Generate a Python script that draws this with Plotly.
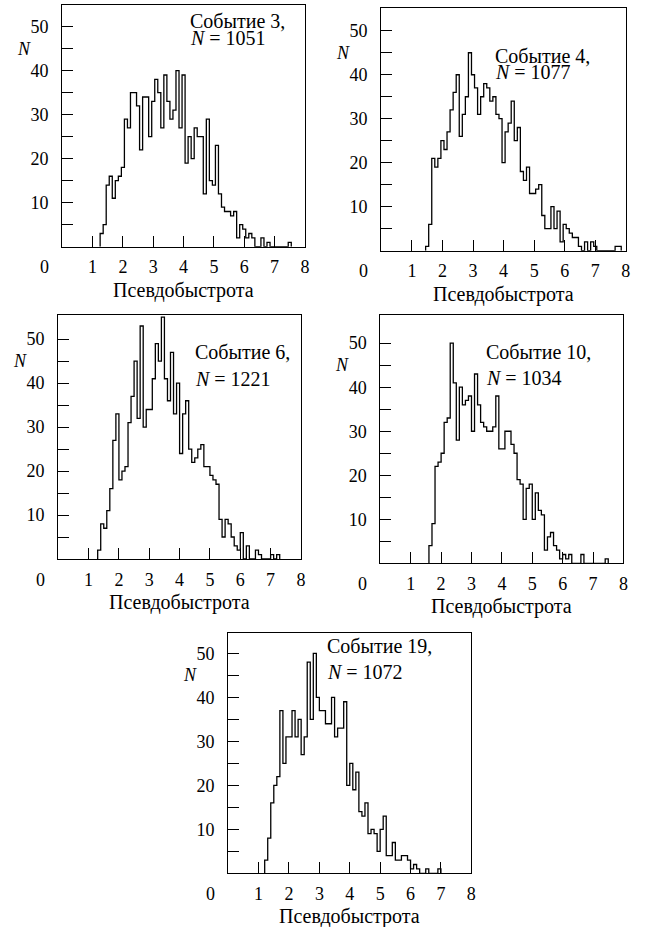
import plotly.graph_objects as go

# ---------------- data ----------------
x_title = "Псевдобыстрота"
event_ids = ["3", "4", "6", "10", "19"]
event_totals = ["1051", "1077", "1221", "1034", "1072"]
bin_width = 0.1
bin_starts = [1.25, 1.45, 1.3, 1.6, 1.2]

counts_ev3 = [3, 5, 14, 16, 11, 15, 16, 18, 29, 27,
              35, 35, 32, 22, 34, 34, 25, 33, 38, 35,
              27, 39, 33, 29, 31, 40, 27, 39, 19, 25,
              20, 27, 25, 25, 12, 29, 15, 14, 23, 12,
              9, 8, 8, 7, 8, 2, 5, 4, 2, 3,
              2, 0, 0, 2, 0, 1, 0, 0, 0, 0, 0, 0, 1]
counts_ev4 = [1, 6, 21, 19, 21, 25, 23, 27, 32, 36,
              40, 26, 31, 35, 45, 40, 37, 31, 35, 38,
              37, 34, 35, 31, 30, 20, 27, 29, 34, 25,
              28, 18, 16, 19, 13, 13, 14, 15, 8, 5,
              5, 10, 5, 9, 2, 6, 5, 4, 3, 3,
              1, 0, 2, 0, 2, 1, 0, 0, 0, 0, 0, 0, 1, 1]
counts_ev6 = [2, 8, 7, 11, 16, 27, 33, 18, 20, 21,
              31, 37, 45, 32, 53, 30, 34, 34, 41, 49,
              45, 55, 41, 36, 47, 33, 40, 24, 33, 36,
              25, 22, 23, 25, 26, 21, 21, 19, 18, 17,
              9, 5, 9, 8, 5, 3, 2, 6, 0, 3,
              0, 0, 2, 1, 0, 0, 0, 1, 0, 1]
counts_ev10 = [4, 9, 22, 23, 25, 32, 33, 50, 41, 28,
               40, 36, 37, 38, 30, 43, 36, 32, 31, 30,
               30, 31, 38, 26, 26, 30, 30, 27, 25, 19,
               18, 10, 17, 18, 10, 16, 12, 11, 3, 6,
               7, 4, 3, 1, 2, 1, 2, 0, 0, 0,
               2, 0, 0, 0, 0, 0, 0, 0, 1]
counts_ev19 = [3, 8, 16, 20, 22, 37, 25, 31, 31, 37,
               31, 35, 27, 31, 48, 35, 50, 40, 37, 37,
               34, 34, 40, 31, 33, 33, 39, 20, 25, 19,
               23, 14, 13, 16, 9, 10, 9, 5, 10, 13,
               4, 4, 7, 3, 3, 4, 4, 3, 1, 2,
               1, 0, 0, 1, 0, 0, 0, 1]
all_counts = [counts_ev3, counts_ev4, counts_ev6, counts_ev10, counts_ev19]

x_tickvals = [1, 2, 3, 4, 5, 6, 7, 8]
x_ticktext = ["1", "2", "3", "4", "5", "6", "7", "8"]
y_tickvals = [5, 10, 15, 20, 25, 30, 35, 40, 45, 50]
y_ticktext = ["", "10", "", "20", "", "30", "", "40", "", "50"]

# ---------------- layout (pixel frames) ----------------
W, H = 645, 927
frames = [  # left, right, top, bottom (px)
    (62.7, 307.3, 5.0, 246.7),
    (384.3, 630.7, 8.3, 250.7),
    (58.7, 303.3, 315.0, 559.0),
    (383.3, 628.3, 315.0, 563.3),
    (230.0, 475.0, 632.7, 873.3),
]
y_tops = [54.9, 55.1, 55.5, 56.4, 54.7]
label_pos = [  # (x of text left, y line1, y line2) in data units
    (4.16, 51.3, 47.4),
    (3.64, 44.3, 40.7),
    (4.45, 47.0, 41.0),
    (3.42, 47.9, 42.2),
    (3.17, 51.7, 45.8),
]

SERIF = "Liberation Serif, Times New Roman, serif"
fig = go.Figure()
annotations = []

for i, counts in enumerate(all_counts):
    s = "" if i == 0 else str(i + 1)
    start = bin_starts[i]
    edges = [start + bin_width * k for k in range(len(counts) + 1)]
    xs = [edges[0]] + edges
    ys = [0] + counts + [0]
    fig.add_trace(go.Scatter(
        x=xs, y=ys, mode="lines", line=dict(color="black", width=1.3, shape="hv"),
        xaxis="x" + s, yaxis="y" + s, showlegend=False, hoverinfo="skip"))

    l, r, t, b = frames[i]
    axis_common = dict(showline=True, linecolor="black", linewidth=1.2, mirror=True,
                       ticks="inside", ticklen=11, tickwidth=1.1, tickcolor="black",
                       showgrid=False, zeroline=False,
                       tickfont=dict(family=SERIF, size=18, color="black"))
    fig.layout["xaxis" + s] = dict(
        axis_common, domain=[l / W, r / W], range=[0, 8], anchor="y" + s,
        tickvals=x_tickvals, ticktext=x_ticktext, ticklabelstandoff=4)
    fig.layout["yaxis" + s] = dict(
        axis_common, domain=[1 - b / H, 1 - t / H], range=[0, y_tops[i]], anchor="x" + s,
        tickvals=y_tickvals, ticktext=y_ticktext, ticklabelstandoff=9)

    xr, yr = "x" + s, "y" + s
    annotations.append(dict(text="0", xref=xr, yref=yr, x=0, y=0, xshift=-17.5, yshift=-20.5,
                            xanchor="center", yanchor="middle", showarrow=False,
                            font=dict(family=SERIF, size=18, color="black")))
    annotations.append(dict(text="<i>N</i>", xref=xr + " domain", yref=yr, x=0, y=45, xshift=-38,
                            xanchor="center", yanchor="middle", showarrow=False,
                            font=dict(family=SERIF, size=18, color="black")))
    annotations.append(dict(text=x_title, xref=xr + " domain", yref=yr + " domain", x=0.5, y=0,
                            yshift=-43.5, xanchor="center", yanchor="middle", showarrow=False,
                            font=dict(family=SERIF, size=20, color="black")))
    lx, ly1, ly2 = label_pos[i]
    annotations.append(dict(text=f"Событие {event_ids[i]},", xref=xr, yref=yr, x=lx, y=ly1,
                            xanchor="left", yanchor="middle", showarrow=False,
                            font=dict(family=SERIF, size=20, color="black")))
    annotations.append(dict(text=f"<i>N</i> = {event_totals[i]}", xref=xr, yref=yr, x=lx, y=ly2,
                            xanchor="left", yanchor="middle", showarrow=False,
                            font=dict(family=SERIF, size=20, color="black")))

fig.update_layout(width=W, height=H, margin=dict(l=0, r=0, t=0, b=0),
                  paper_bgcolor="white", plot_bgcolor="white",
                  annotations=annotations, showlegend=False)
fig.write_html("out.html")
